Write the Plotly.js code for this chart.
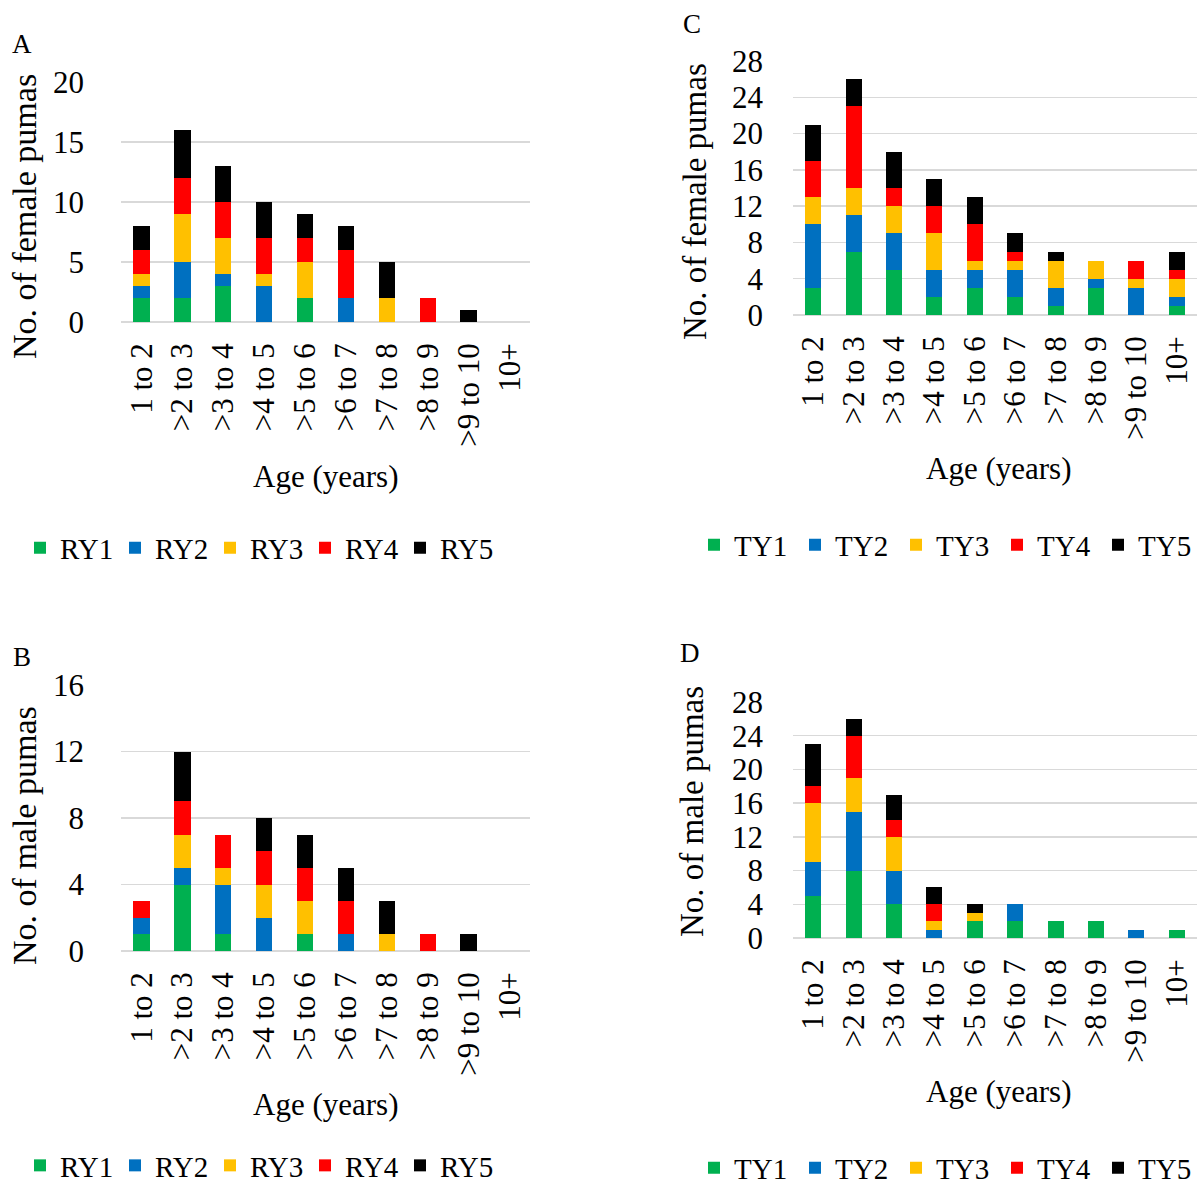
<!DOCTYPE html>
<html><head><meta charset="utf-8">
<script src="https://cdn.plot.ly/plotly-3.0.1.min.js"></script>
<style>body{margin:0;background:#fff}#chart{width:1198px;height:1191px}</style>
</head><body><div id="chart"></div>
<script>
const ageCats = ["1 to 2", ">2 to 3", ">3 to 4", ">4 to 5", ">5 to 6", ">6 to 7", ">7 to 8", ">8 to 9", ">9 to 10", "10+"];
const rNames = ["RY1", "RY2", "RY3", "RY4", "RY5"];
const tNames = ["TY1", "TY2", "TY3", "TY4", "TY5"];
const colors = ["#00B050", "#0070C0", "#FFC000", "#FF0000", "#000000"];

// Panel A: female pumas, RY
const aRY1 = [2, 2, 3, 0, 2, 0, 0, 0, 0, 0];
const aRY2 = [1, 3, 1, 3, 0, 2, 0, 0, 0, 0];
const aRY3 = [1, 4, 3, 1, 3, 0, 2, 0, 0, 0];
const aRY4 = [2, 3, 3, 3, 2, 4, 0, 2, 0, 0];
const aRY5 = [2, 4, 3, 3, 2, 2, 3, 0, 1, 0];
// Panel B: male pumas, RY
const bRY1 = [1, 4, 1, 0, 1, 0, 0, 0, 0, 0];
const bRY2 = [1, 1, 3, 2, 0, 1, 0, 0, 0, 0];
const bRY3 = [0, 2, 1, 2, 2, 0, 1, 0, 0, 0];
const bRY4 = [1, 2, 2, 2, 2, 2, 0, 1, 0, 0];
const bRY5 = [0, 3, 0, 2, 2, 2, 2, 0, 1, 0];
// Panel C: female pumas, TY
const cTY1 = [3, 7, 5, 2, 3, 2, 1, 3, 0, 1];
const cTY2 = [7, 4, 4, 3, 2, 3, 2, 1, 3, 1];
const cTY3 = [3, 3, 3, 4, 1, 1, 3, 2, 1, 2];
const cTY4 = [4, 9, 2, 3, 4, 1, 0, 0, 2, 1];
const cTY5 = [4, 3, 4, 3, 3, 2, 1, 0, 0, 2];
// Panel D: male pumas, TY
const dTY1 = [5, 8, 4, 0, 2, 2, 2, 2, 0, 1];
const dTY2 = [4, 7, 4, 1, 0, 2, 0, 0, 1, 0];
const dTY3 = [7, 4, 4, 1, 1, 0, 0, 0, 0, 0];
const dTY4 = [2, 5, 2, 2, 0, 0, 0, 0, 0, 0];
const dTY5 = [5, 2, 3, 2, 1, 0, 0, 0, 0, 0];

const FONT = "Liberation Serif, Times New Roman, serif";
const panels = [
  {series: [aRY1, aRY2, aRY3, aRY4, aRY5], names: rNames, xa: "x", ya: "y", lg: "legend"},
  {series: [bRY1, bRY2, bRY3, bRY4, bRY5], names: rNames, xa: "x2", ya: "y2", lg: "legend2"},
  {series: [cTY1, cTY2, cTY3, cTY4, cTY5], names: tNames, xa: "x3", ya: "y3", lg: "legend3"},
  {series: [dTY1, dTY2, dTY3, dTY4, dTY5], names: tNames, xa: "x4", ya: "y4", lg: "legend4"}
];
const traces = [];
panels.forEach(p => {
  p.series.forEach((vals, i) => {
    traces.push({
      type: "bar", x: ageCats, y: vals, name: p.names[i],
      xaxis: p.xa, yaxis: p.ya, legend: p.lg,
      marker: {color: colors[i], line: {width: 0}},
      hoverinfo: "x+y+name"
    });
  });
});

const H = 1191, W = 1198;
function px(x) { return x / W; }
function py(y) { return (H - y) / H; }
function xax(l, r) {
  return {domain: [px(l), px(r)], type: "category", tickangle: -90,
    tickmode: "array", tickvals: ageCats, ticktext: ageCats,
    tickfont: {family: FONT, size: 31, color: "#000"}, showgrid: false, automargin: false,
    showline: false, zeroline: false, ticks: "", ticklabelstandoff: 14, fixedrange: true};
}
function yax(b, t, max, dt, standoff) {
  return {domain: [py(b), py(t)], range: [0, max], dtick: dt, tick0: 0, automargin: false,
    tickfont: {family: FONT, size: 31, color: "#000"}, showgrid: true,
    gridcolor: "#d9d9d9", gridwidth: 1.5, zeroline: true, zerolinecolor: "#d9d9d9",
    zerolinewidth: 1.5, showline: false, ticks: "", ticklabelstandoff: standoff, fixedrange: true};
}
function legendAt(x, y, ew, anchor) {
  return {orientation: "h", x: px(x), y: py(y), xanchor: "left", yanchor: anchor || "middle",
    font: {family: FONT, size: 29, color: "#000"}, bgcolor: "rgba(0,0,0,0)",
    traceorder: "normal", entrywidth: ew, entrywidthmode: "pixels", itemclick: false};
}
function ann(text, x, y, size, extra) {
  return Object.assign({text: text, x: px(x), y: py(y), xref: "paper", yref: "paper",
    showarrow: false, font: {family: FONT, size: size, color: "#000"},
    xanchor: "center", yanchor: "middle"}, extra || {});
}

const layout = {
  width: W, height: H, autosize: false,
  margin: {l: 0, r: 0, t: 0, b: 0, autoexpand: false},
  paper_bgcolor: "#fff", plot_bgcolor: "#fff",
  barmode: "stack", bargap: 0.6,
  showlegend: true,
  xaxis: Object.assign(xax(121, 530), {anchor: "y"}),
  yaxis: Object.assign(yax(322, 82, 20, 5, 36), {anchor: "x"}),
  xaxis2: Object.assign(xax(121, 530), {anchor: "y2"}),
  yaxis2: Object.assign(yax(951, 685, 16, 4, 36), {anchor: "x2"}),
  xaxis3: Object.assign(xax(793, 1197), {anchor: "y3"}),
  yaxis3: Object.assign(yax(315, 61, 28, 4, 29), {anchor: "x3"}),
  xaxis4: Object.assign(xax(793, 1197), {anchor: "y4"}),
  yaxis4: Object.assign(yax(938, 702, 28, 4, 29), {anchor: "x4"}),
  legend: legendAt(20, 548, 50),
  legend2: legendAt(20, 1191, 50, "bottom"),
  legend3: legendAt(694, 545, 56),
  legend4: legendAt(694, 1168, 56),
  annotations: [
    ann("A", 22, 44, 27),
    ann("B", 22, 657, 27),
    ann("C", 692, 24, 27),
    ann("D", 690, 653, 27),
    ann("Age (years)", 325, 476, 31),
    ann("Age (years)", 325, 1104, 31),
    ann("Age (years)", 998, 468, 31),
    ann("Age (years)", 998, 1091, 31),
    ann("No. of female pumas", 25, 217, 34, {textangle: -90}),
    ann("No. of male pumas", 24, 836, 34, {textangle: -90}),
    ann("No. of female pumas", 695, 202, 33, {textangle: -90}),
    ann("No. of male pumas", 692, 812, 33, {textangle: -90})
  ]
};
Plotly.newPlot("chart", traces, layout, {displayModeBar: false, staticPlot: true});
</script></body></html>
